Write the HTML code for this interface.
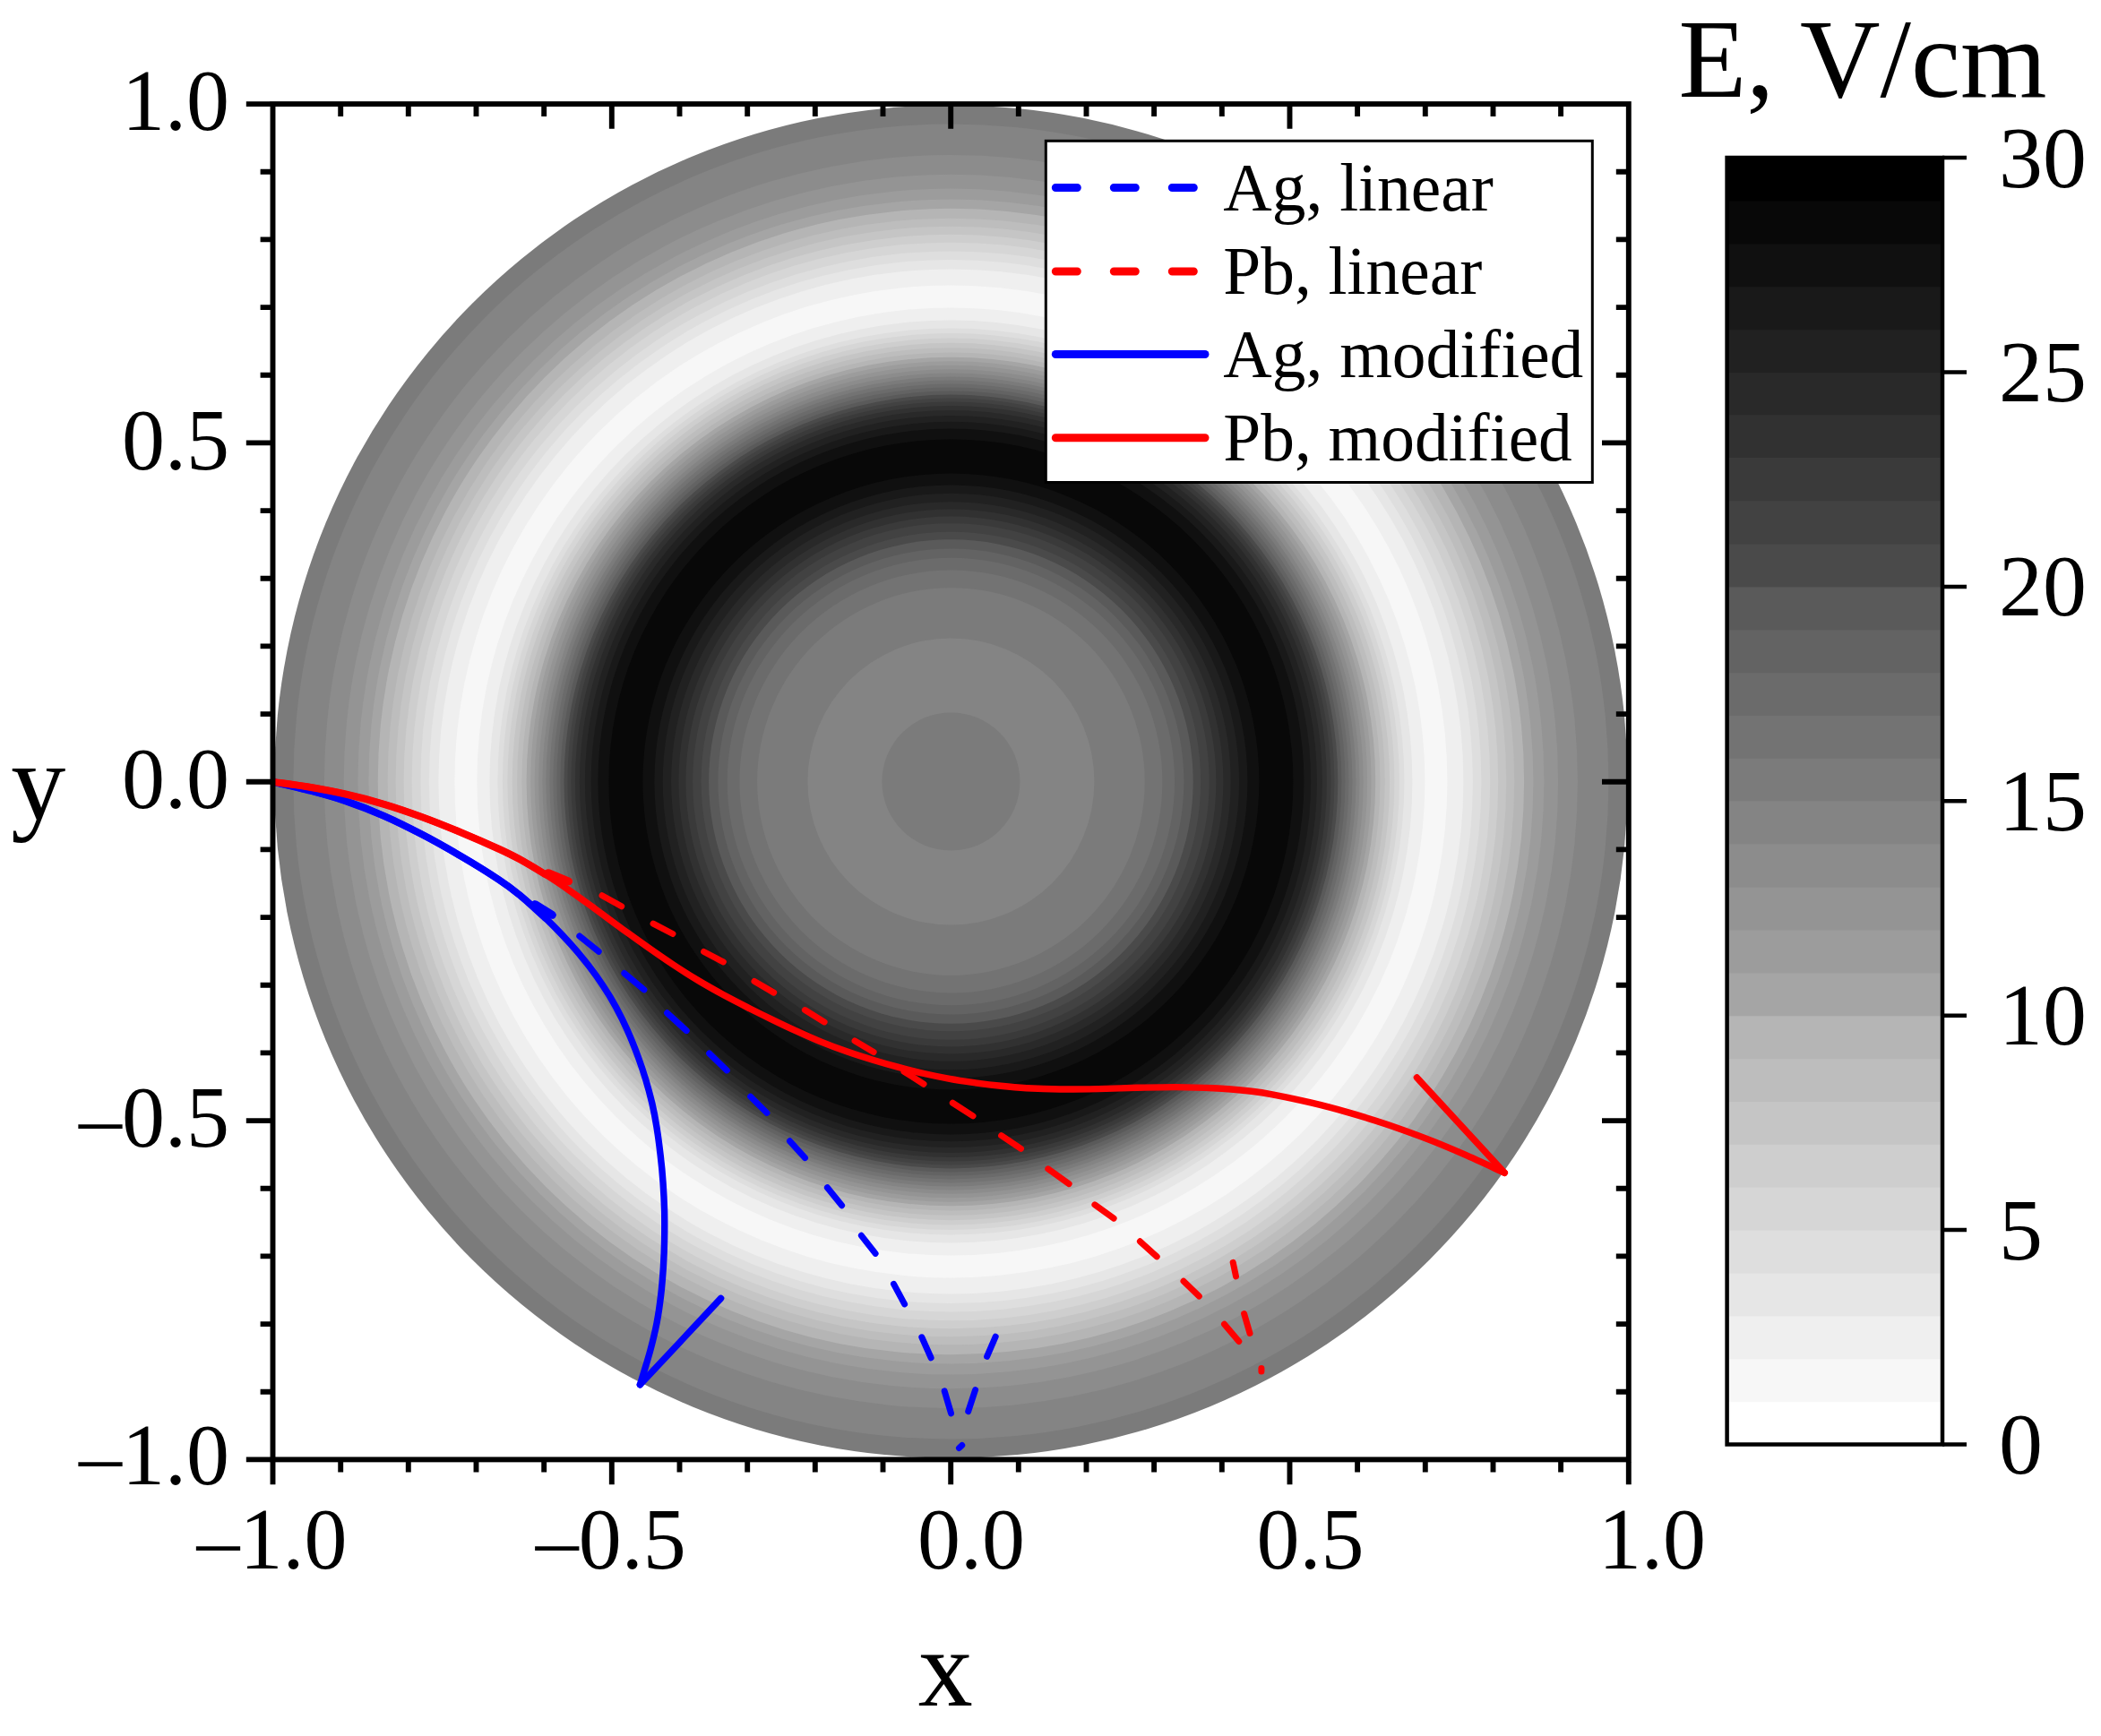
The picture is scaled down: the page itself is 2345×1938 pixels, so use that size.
<!DOCTYPE html>
<html lang="en"><head><meta charset="utf-8"><title>E, V/cm</title>
<style>html,body{margin:0;padding:0;background:#fff}svg{display:block}text{font-family:"Liberation Serif","Times New Roman",serif;fill:#000}</style></head><body>
<svg width="2345" height="1938" viewBox="0 0 2345 1938">
<rect width="2345" height="1938" fill="#fff"/>
<g>
<circle cx="1061.4" cy="872.5" r="755.2" fill="#7b7b7b"/>
<circle cx="1061.4" cy="872.5" r="734.0" fill="#848484"/>
<circle cx="1061.4" cy="872.5" r="699.5" fill="#8c8c8c"/>
<circle cx="1061.4" cy="872.5" r="677.7" fill="#949494"/>
<circle cx="1061.4" cy="872.5" r="662.0" fill="#9c9c9c"/>
<circle cx="1061.4" cy="872.5" r="650.0" fill="#a5a5a5"/>
<circle cx="1061.4" cy="872.5" r="639.7" fill="#b5b5b5"/>
<circle cx="1061.4" cy="872.5" r="628.8" fill="#bdbdbd"/>
<circle cx="1061.4" cy="872.5" r="619.8" fill="#c5c5c5"/>
<circle cx="1061.4" cy="872.5" r="610.8" fill="#cecece"/>
<circle cx="1061.4" cy="872.5" r="601.8" fill="#d6d6d6"/>
<circle cx="1061.4" cy="872.5" r="592.0" fill="#dedede"/>
<circle cx="1061.4" cy="872.5" r="582.5" fill="#e6e6e6"/>
<circle cx="1061.4" cy="872.5" r="572.0" fill="#efefef"/>
<circle cx="1061.4" cy="872.5" r="554.0" fill="#f7f7f7"/>
<circle cx="1061.4" cy="872.5" r="529.0" fill="#efefef"/>
<circle cx="1061.4" cy="872.5" r="515.0" fill="#e6e6e6"/>
<circle cx="1061.4" cy="872.5" r="506.0" fill="#dedede"/>
<circle cx="1061.4" cy="872.5" r="500.5" fill="#d6d6d6"/>
<circle cx="1061.4" cy="872.5" r="495.0" fill="#cecece"/>
<circle cx="1061.4" cy="872.5" r="489.7" fill="#c5c5c5"/>
<circle cx="1061.4" cy="872.5" r="484.3" fill="#bdbdbd"/>
<circle cx="1061.4" cy="872.5" r="479.0" fill="#b5b5b5"/>
<circle cx="1061.4" cy="872.5" r="473.8" fill="#a5a5a5"/>
<circle cx="1061.4" cy="872.5" r="469.2" fill="#9c9c9c"/>
<circle cx="1061.4" cy="872.5" r="464.7" fill="#949494"/>
<circle cx="1061.4" cy="872.5" r="460.3" fill="#8c8c8c"/>
<circle cx="1061.4" cy="872.5" r="456.0" fill="#848484"/>
<circle cx="1061.4" cy="872.5" r="452.0" fill="#7b7b7b"/>
<circle cx="1061.4" cy="872.5" r="448.0" fill="#737373"/>
<circle cx="1061.4" cy="872.5" r="444.0" fill="#6b6b6b"/>
<circle cx="1061.4" cy="872.5" r="440.0" fill="#636363"/>
<circle cx="1061.4" cy="872.5" r="436.0" fill="#5a5a5a"/>
<circle cx="1061.4" cy="872.5" r="431.9" fill="#4a4a4a"/>
<circle cx="1061.4" cy="872.5" r="428.0" fill="#424242"/>
<circle cx="1061.4" cy="872.5" r="424.0" fill="#3a3a3a"/>
<circle cx="1061.4" cy="872.5" r="419.5" fill="#313131"/>
<circle cx="1061.4" cy="872.5" r="414.5" fill="#292929"/>
<circle cx="1061.4" cy="872.5" r="408.5" fill="#212121"/>
<circle cx="1061.4" cy="872.5" r="401.7" fill="#191919"/>
<circle cx="1061.4" cy="872.5" r="394.0" fill="#101010"/>
<circle cx="1061.4" cy="872.5" r="382.0" fill="#080808"/>
<circle cx="1061.4" cy="872.5" r="344.0" fill="#101010"/>
<circle cx="1061.4" cy="872.5" r="331.0" fill="#191919"/>
<circle cx="1061.4" cy="872.5" r="321.7" fill="#212121"/>
<circle cx="1061.4" cy="872.5" r="312.3" fill="#292929"/>
<circle cx="1061.4" cy="872.5" r="304.0" fill="#313131"/>
<circle cx="1061.4" cy="872.5" r="296.0" fill="#3a3a3a"/>
<circle cx="1061.4" cy="872.5" r="288.3" fill="#424242"/>
<circle cx="1061.4" cy="872.5" r="278.8" fill="#4a4a4a"/>
<circle cx="1061.4" cy="872.5" r="270.3" fill="#5a5a5a"/>
<circle cx="1061.4" cy="872.5" r="260.0" fill="#636363"/>
<circle cx="1061.4" cy="872.5" r="249.7" fill="#6b6b6b"/>
<circle cx="1061.4" cy="872.5" r="236.0" fill="#737373"/>
<circle cx="1061.4" cy="872.5" r="216.3" fill="#7b7b7b"/>
<circle cx="1061.4" cy="872.5" r="160.0" fill="#848484"/>
<circle cx="1061.4" cy="872.5" r="77.0" fill="#7b7b7b"/>
</g>
<g fill="none" stroke-linecap="round" stroke-linejoin="round">
<path d="M305.0 872.9 C311.3 874.4 329.6 878.3 343.0 881.8 C356.4 885.4 371.3 889.3 385.5 894.1 C399.8 899.0 414.2 904.5 428.5 910.8 C442.9 917.1 457.2 924.3 471.5 931.8 C485.9 939.3 500.4 947.5 514.6 955.9 C528.8 964.2 545.7 974.7 556.7 982.0 C567.7 989.2 571.8 992.4 580.4 999.5 C589.0 1006.6 599.0 1015.4 608.4 1024.5 C617.9 1033.6 629.0 1045.2 637.2 1054.2 C645.3 1063.2 651.4 1070.8 657.4 1078.5 C663.4 1086.2 668.1 1092.8 673.1 1100.5 C678.2 1108.1 683.1 1116.1 687.6 1124.5 C692.1 1132.8 696.3 1141.1 700.4 1150.4 C704.5 1159.6 708.8 1170.5 712.2 1179.7 C715.6 1188.9 718.2 1196.8 720.8 1205.5 C723.4 1214.1 725.7 1222.9 727.8 1231.5 C729.8 1240.2 731.3 1247.7 732.8 1257.4 C734.4 1267.1 736.0 1279.4 737.2 1290.0 C738.5 1300.6 739.4 1310.7 740.1 1321.1 C740.8 1331.5 741.3 1341.8 741.6 1352.2 C741.8 1362.6 741.8 1372.9 741.6 1383.3 C741.4 1393.7 741.0 1404.1 740.4 1414.4 C739.7 1424.8 739.0 1435.1 737.7 1445.5 C736.5 1455.9 735.1 1466.2 733.1 1476.6 C731.1 1486.9 728.9 1496.1 725.8 1507.6 C722.7 1519.1 716.3 1539.4 714.4 1545.8" stroke="#00f" stroke-width="7.4"/>
<path d="M305.0 872.9 C311.3 874.4 329.6 878.3 343.0 881.8 C356.4 885.4 371.3 889.3 385.5 894.1 C399.8 899.0 414.2 904.5 428.5 910.8 C442.9 917.1 457.2 924.3 471.5 931.8 C485.9 939.3 500.4 947.5 514.6 955.9 C528.8 964.2 545.7 974.7 556.7 982.0 C567.7 989.2 571.8 992.4 580.4 999.5 C589.0 1006.6 603.8 1020.3 608.4 1024.5" stroke="#00f" stroke-width="8"/>
<path d="M714.4 1545.8L804.6 1449.4" stroke="#00f" stroke-width="7.4"/>
<path d="M596.5 1009.2L617.0 1021.8M646.8 1045.0L668.2 1062.2M696.8 1086.5L718.9 1104.9M744.6 1130.8L766.2 1150.6M791.7 1175.9L811.3 1194.9M837.6 1224.1L855.9 1242.4M881.5 1273.8L898.5 1292.6M923.4 1325.8L939.6 1345.7M961.4 1379.3L977.1 1399.4M997.5 1433.4L1009.6 1455.9M1028.8 1492.8L1039.1 1515.8M1054.2 1552.9L1061.5 1577.8M1070.5 1616.5L1073.7 1613.5M1080.7 1575.7L1088.6 1551.5M1101.6 1514.3L1111.2 1492.1" stroke="#00f" stroke-width="7"/>
<path d="M611.1 974.4L635.4 984.1M672.0 999.7L693.7 1011.8M729.1 1031.1L750.9 1042.5M785.6 1062.5L807.3 1073.9M842.0 1095.5L863.7 1108.1M898.4 1127.6L920.1 1140.9M954.1 1161.9L975.1 1174.5M1009.0 1196.2L1031.0 1210.2M1063.3 1231.2L1086.0 1245.9M1117.6 1267.7L1139.5 1282.3M1169.8 1304.9L1193.1 1321.6M1221.9 1344.9L1243.1 1360.1M1272.4 1385.8L1291.2 1402.8M1321.0 1430.2L1338.3 1447.0M1366.5 1478.2L1382.8 1497.5M1407.9 1527.5L1407.9 1531.0M1395.0 1488.5L1388.6 1466.5M1379.5 1424.9L1376.2 1409.3" stroke="#f00" stroke-width="7"/>
<path d="M612.1 974.7L634.4 983.8" stroke="#f00" stroke-width="9"/>
<path d="M597.3 1009.7L616.2 1021.3" stroke="#00f" stroke-width="9"/>
<path d="M305.0 872.9 C311.3 873.8 329.4 876.0 342.9 878.2 C356.3 880.5 371.4 883.2 385.7 886.5 C400.0 889.7 414.3 893.5 428.6 897.8 C442.9 902.1 457.1 907.0 471.4 912.2 C485.6 917.4 500.0 923.2 514.3 929.2 C528.7 935.2 546.5 943.0 557.4 948.0 C568.3 953.0 571.2 954.4 579.7 959.1 C588.3 963.8 599.2 970.2 608.7 976.2 C618.3 982.2 627.6 988.5 637.0 995.1 C646.5 1001.7 656.1 1008.8 665.7 1015.7 C675.2 1022.7 684.9 1030.0 694.4 1036.9 C704.0 1043.8 713.3 1050.6 722.8 1057.3 C732.3 1064.0 741.9 1070.7 751.5 1077.0 C761.0 1083.3 770.5 1089.3 780.0 1095.0 C789.5 1100.7 799.2 1106.1 808.7 1111.3 C818.2 1116.4 828.4 1121.6 837.0 1126.0 C845.5 1130.3 851.5 1133.2 860.0 1137.3 C868.6 1141.5 878.9 1146.5 888.5 1150.8 C898.0 1155.1 907.7 1159.5 917.2 1163.4 C926.7 1167.3 936.2 1170.8 945.7 1174.1 C955.2 1177.5 964.7 1180.4 974.2 1183.2 C983.7 1186.1 993.4 1188.9 1002.9 1191.4 C1012.4 1194.0 1021.9 1196.4 1031.4 1198.5 C1040.9 1200.7 1050.5 1202.6 1060.0 1204.3 C1069.5 1206.0 1079.1 1207.4 1088.6 1208.8 C1098.1 1210.1 1107.6 1211.3 1117.1 1212.3 C1126.6 1213.3 1134.8 1214.1 1145.7 1214.8 C1156.7 1215.4 1169.6 1215.9 1182.9 1216.0 C1196.2 1216.1 1211.4 1215.9 1225.7 1215.6 C1240.0 1215.3 1254.3 1214.7 1268.6 1214.3 C1282.9 1214.0 1297.1 1213.6 1311.4 1213.6 C1325.7 1213.7 1340.0 1214.0 1354.3 1214.8 C1368.6 1215.6 1386.1 1217.2 1397.1 1218.3 C1408.0 1219.5 1409.1 1219.7 1420.1 1221.8 C1431.0 1223.9 1448.6 1227.5 1462.9 1230.9 C1477.1 1234.2 1491.4 1238.0 1505.7 1242.1 C1520.0 1246.2 1534.4 1250.6 1548.7 1255.4 C1563.0 1260.3 1577.1 1265.3 1591.3 1270.9 C1605.6 1276.4 1619.6 1282.3 1634.2 1288.7 C1648.9 1295.1 1671.8 1305.9 1679.3 1309.3" stroke="#f00" stroke-width="7.4"/>
<path d="M305.0 872.9 C311.3 873.8 329.4 876.0 342.9 878.2 C356.3 880.5 371.4 883.2 385.7 886.5 C400.0 889.7 414.3 893.5 428.6 897.8 C442.9 902.1 457.1 907.0 471.4 912.2 C485.6 917.4 500.0 923.2 514.3 929.2 C528.7 935.2 546.5 943.0 557.4 948.0 C568.3 953.0 571.2 954.4 579.7 959.1 C588.3 963.8 603.9 973.3 608.7 976.2" stroke="#f00" stroke-width="8"/>
<path d="M1679.3 1309.3L1581.4 1202.9" stroke="#f00" stroke-width="7.4"/>
</g>
<g stroke="#000" stroke-width="5.9" fill="none" stroke-linecap="butt">
<rect x="304.5" y="116.1" width="1513.3" height="1513.3"/>
<path d="M304.5 1631.9V1657.2M302.1 1629.4H274.8M380.2 1631.9V1643.4M380.2 118.5V130.1M302.1 1553.7H290.6M1815.3 1553.7H1803.8M455.8 1631.9V1643.4M455.8 118.5V130.1M302.1 1478.1H290.6M1815.3 1478.1H1803.8M531.5 1631.9V1643.4M531.5 118.5V130.1M302.1 1402.4H290.6M1815.3 1402.4H1803.8M607.2 1631.9V1643.4M607.2 118.5V130.1M302.1 1326.7H290.6M1815.3 1326.7H1803.8M682.8 1631.9V1657.2M682.8 118.5V143.8M302.1 1251.1H274.8M1815.3 1251.1H1788.0M758.5 1631.9V1643.4M758.5 118.5V130.1M302.1 1175.4H290.6M1815.3 1175.4H1803.8M834.2 1631.9V1643.4M834.2 118.5V130.1M302.1 1099.7H290.6M1815.3 1099.7H1803.8M909.8 1631.9V1643.4M909.8 118.5V130.1M302.1 1024.1H290.6M1815.3 1024.1H1803.8M985.5 1631.9V1643.4M985.5 118.5V130.1M302.1 948.4H290.6M1815.3 948.4H1803.8M1061.2 1631.9V1657.2M1061.2 118.5V143.8M302.1 872.8H274.8M1815.3 872.8H1788.0M1136.8 1631.9V1643.4M1136.8 118.5V130.1M302.1 797.1H290.6M1815.3 797.1H1803.8M1212.5 1631.9V1643.4M1212.5 118.5V130.1M302.1 721.4H290.6M1815.3 721.4H1803.8M1288.1 1631.9V1643.4M1288.1 118.5V130.1M302.1 645.8H290.6M1815.3 645.8H1803.8M1363.8 1631.9V1643.4M1363.8 118.5V130.1M302.1 570.1H290.6M1815.3 570.1H1803.8M1439.5 1631.9V1657.2M1439.5 118.5V143.8M302.1 494.4H274.8M1815.3 494.4H1788.0M1515.1 1631.9V1643.4M1515.1 118.5V130.1M302.1 418.8H290.6M1815.3 418.8H1803.8M1590.8 1631.9V1643.4M1590.8 118.5V130.1M302.1 343.1H290.6M1815.3 343.1H1803.8M1666.5 1631.9V1643.4M1666.5 118.5V130.1M302.1 267.4H290.6M1815.3 267.4H1803.8M1742.1 1631.9V1643.4M1742.1 118.5V130.1M302.1 191.8H290.6M1815.3 191.8H1803.8M1817.8 1631.9V1657.2M302.1 116.1H274.8"/>
</g>
<g font-size="96">
<text transform="translate(256 145.0) scale(1 1.008)" text-anchor="end">1.0</text>
<text transform="translate(256 523.8) scale(1 1.008)" text-anchor="end">0.5</text>
<text transform="translate(256 902.0) scale(1 1.008)" text-anchor="end">0.0</text>
<text transform="translate(256 1279.6) scale(1 1.008)" text-anchor="end">–0.5</text>
<text transform="translate(256 1656.5) scale(1 1.008)" text-anchor="end">–1.0</text>
<text transform="translate(219.4 1751.3) scale(1 1.008)">–1.0</text>
<text transform="translate(597.7 1751.3) scale(1 1.008)">–0.5</text>
<text transform="translate(1023.9 1751.3) scale(1 1.008)">0.0</text>
<text transform="translate(1402.6 1751.3) scale(1 1.008)">0.5</text>
<text transform="translate(1784.1 1751.3) scale(1 1.008)">1.0</text>
<text transform="translate(2231 208.6) scale(1.02 1.008)">30</text>
<text transform="translate(2231 448.0) scale(1.02 1.008)">25</text>
<text transform="translate(2231 687.4) scale(1.02 1.008)">20</text>
<text transform="translate(2231 926.8) scale(1.02 1.008)">15</text>
<text transform="translate(2231 1166.2) scale(1.02 1.008)">10</text>
<text transform="translate(2231 1405.6) scale(1.02 1.008)">5</text>
<text transform="translate(2231 1645.0) scale(1.02 1.008)">0</text>
</g>
<text x="12.3" y="914.5" font-size="122">y</text>
<text x="1024.7" y="1903.8" font-size="122">x</text>
<text x="1873.5" y="107.5" font-size="124">E, V/cm</text>
<g>
<rect x="1927.6" y="1564.62" width="240.4" height="48.48" fill="#ffffff"/>
<rect x="1927.6" y="1516.73" width="240.4" height="48.48" fill="#f7f7f7"/>
<rect x="1927.6" y="1468.85" width="240.4" height="48.48" fill="#efefef"/>
<rect x="1927.6" y="1420.97" width="240.4" height="48.48" fill="#e6e6e6"/>
<rect x="1927.6" y="1373.08" width="240.4" height="48.48" fill="#dedede"/>
<rect x="1927.6" y="1325.20" width="240.4" height="48.48" fill="#d6d6d6"/>
<rect x="1927.6" y="1277.32" width="240.4" height="48.48" fill="#cecece"/>
<rect x="1927.6" y="1229.43" width="240.4" height="48.48" fill="#c5c5c5"/>
<rect x="1927.6" y="1181.55" width="240.4" height="48.48" fill="#bdbdbd"/>
<rect x="1927.6" y="1133.67" width="240.4" height="48.48" fill="#b5b5b5"/>
<rect x="1927.6" y="1085.78" width="240.4" height="48.48" fill="#a5a5a5"/>
<rect x="1927.6" y="1037.90" width="240.4" height="48.48" fill="#9c9c9c"/>
<rect x="1927.6" y="990.02" width="240.4" height="48.48" fill="#949494"/>
<rect x="1927.6" y="942.13" width="240.4" height="48.48" fill="#8c8c8c"/>
<rect x="1927.6" y="894.25" width="240.4" height="48.48" fill="#848484"/>
<rect x="1927.6" y="846.37" width="240.4" height="48.48" fill="#7b7b7b"/>
<rect x="1927.6" y="798.48" width="240.4" height="48.48" fill="#737373"/>
<rect x="1927.6" y="750.60" width="240.4" height="48.48" fill="#6b6b6b"/>
<rect x="1927.6" y="702.72" width="240.4" height="48.48" fill="#636363"/>
<rect x="1927.6" y="654.83" width="240.4" height="48.48" fill="#5a5a5a"/>
<rect x="1927.6" y="606.95" width="240.4" height="48.48" fill="#4a4a4a"/>
<rect x="1927.6" y="559.07" width="240.4" height="48.48" fill="#424242"/>
<rect x="1927.6" y="511.18" width="240.4" height="48.48" fill="#3a3a3a"/>
<rect x="1927.6" y="463.30" width="240.4" height="48.48" fill="#313131"/>
<rect x="1927.6" y="415.42" width="240.4" height="48.48" fill="#292929"/>
<rect x="1927.6" y="367.53" width="240.4" height="48.48" fill="#212121"/>
<rect x="1927.6" y="319.65" width="240.4" height="48.48" fill="#191919"/>
<rect x="1927.6" y="271.77" width="240.4" height="48.48" fill="#101010"/>
<rect x="1927.6" y="223.88" width="240.4" height="48.48" fill="#080808"/>
<rect x="1927.6" y="176.00" width="240.4" height="48.48" fill="#000000"/>
</g>
<g stroke="#000" stroke-width="4.5" fill="none">
<rect x="1927.6" y="176.0" width="240.4" height="1436.5"/>
<path d="M2168.0 176.1H2195M2168.0 415.5H2195M2168.0 654.9H2195M2168.0 894.3H2195M2168.0 1133.7H2195M2168.0 1373.1H2195M2168.0 1612.5H2195"/>
</g>
<rect x="1167.3" y="157.3" width="610" height="381.2" fill="#fff" stroke="#000" stroke-width="3"/>
<g fill="none" stroke-width="9" stroke-linecap="round">
<path d="M1178.3 209.5H1334" stroke="#00f" stroke-dasharray="24 41"/>
<path d="M1178.3 303H1334" stroke="#f00" stroke-dasharray="24 41"/>
<path d="M1178.3 395.5H1345" stroke="#00f"/>
<path d="M1178.3 488.8H1345" stroke="#f00"/>
</g>
<g font-size="75.4">
<text x="1365.3" y="234.5">Ag, linear</text>
<text x="1365.3" y="327.5">Pb, linear</text>
<text x="1365.3" y="421.2">Ag, modified</text>
<text x="1365.3" y="514.2">Pb, modified</text>
</g>
</svg></body></html>
